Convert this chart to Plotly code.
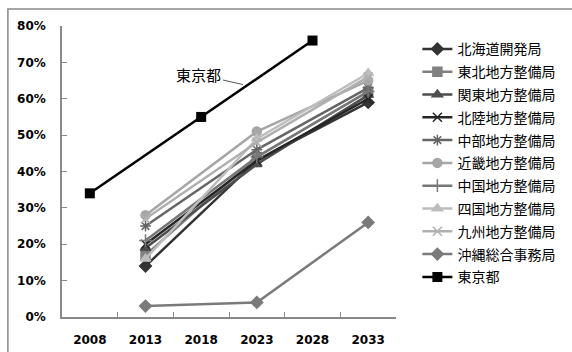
import plotly.graph_objects as go

years = ["2008", "2013", "2018", "2023", "2028", "2033"]
region_years = ["2013", "2023", "2033"]
tokyo_years = ["2008", "2018", "2028"]

names = ["北海道開発局", "東北地方整備局", "関東地方整備局", "北陸地方整備局", "中部地方整備局",
         "近畿地方整備局", "中国地方整備局", "四国地方整備局", "九州地方整備局", "沖縄総合事務局"]
hokkaido = [14, 43, 59]
tohoku = [17, 44, 62]
kanto = [19, 42, 61]
hokuriku = [20, 43, 60]
chubu = [25, 46, 63]
kinki = [28, 51, 65]
chugoku = [21, 44, 62]
shikoku = [16, 49, 67]
kyushu = [27, 48, 66]
okinawa = [3, 4, 26]
tokyo = [34, 55, 76]

series = [hokkaido, tohoku, kanto, hokuriku, chubu, kinki, chugoku, shikoku, kyushu, okinawa]
colors = ["#333333", "#808080", "#4d4d4d", "#262626", "#666666",
          "#a6a6a6", "#777777", "#bdbdbd", "#b0b0b0", "#7a7a7a"]
symbols = ["diamond", "square", "triangle-up", "x-thin-open", "asterisk-open",
           "circle", "cross-thin-open", "triangle-up", "x-thin-open", "diamond"]

fig = go.Figure()
for i, (nm, vals) in enumerate(zip(names, series)):
    fig.add_trace(go.Scatter(
        x=region_years, y=vals, name=nm, mode="lines+markers",
        line=dict(color=colors[i], width=2.5),
        marker=dict(symbol=symbols[i], size=9, color=colors[i],
                    line=dict(color=colors[i], width=1.5)),
        legendgroup=f"g{i}",
    ))
fig.add_trace(go.Scatter(
    x=tokyo_years, y=tokyo, name="東京都", mode="lines+markers",
    line=dict(color="#000000", width=2.5),
    marker=dict(symbol="square", size=10, color="#000000"),
    legendgroup="g10",
))

fig.update_layout(
    width=572, height=352,
    margin=dict(l=62, r=176, t=26, b=35),
    paper_bgcolor="white", plot_bgcolor="white",
    font=dict(family="Noto Sans CJK JP", color="#000000"),
    xaxis=dict(type="category", categoryorder="array", categoryarray=years,
               showline=True, linecolor="#888888", linewidth=1.5,
               ticks="inside", ticklen=5, tickcolor="#888888", tickson="boundaries",
               showgrid=False, zeroline=False, automargin=False,
               tickfont=dict(family="DejaVu Sans", size=12, color="#000000", weight="bold"),
               ticklabelstandoff=11, range=[-0.5, 5.5]),
    yaxis=dict(range=[0, 80], dtick=10, ticksuffix="%",
               showline=True, linecolor="#888888", linewidth=1.5,
               ticks="inside", ticklen=5, tickcolor="#888888",
               showgrid=False, zeroline=False, automargin=False,
               tickfont=dict(family="DejaVu Sans", size=12, color="#000000", weight="bold"),
               ticklabelstandoff=12),
    legend=dict(x=1.064, y=0.975, xanchor="left", yanchor="top",
                font=dict(family="Noto Sans CJK JP", size=14, color="#000000"),
                traceorder="grouped", tracegroupgap=1.6,
                bgcolor="rgba(0,0,0,0)"),
    showlegend=True,
)

fig.add_annotation(x=2.75, y=63.9, xref="x", yref="y", text="東京都",
                   showarrow=True, arrowhead=0, arrowwidth=1, arrowcolor="#555555",
                   ax=-44, ay=-10, font=dict(family="Noto Sans CJK JP", size=15, color="#000000"))

fig.add_shape(type="rect", xref="paper", yref="paper",
              x0=-0.162, x1=1.7, y0=-0.3, y1=1.058,
              line=dict(color="#888888", width=1.5), fillcolor="rgba(0,0,0,0)", layer="below")

fig.write_html("out.html")
